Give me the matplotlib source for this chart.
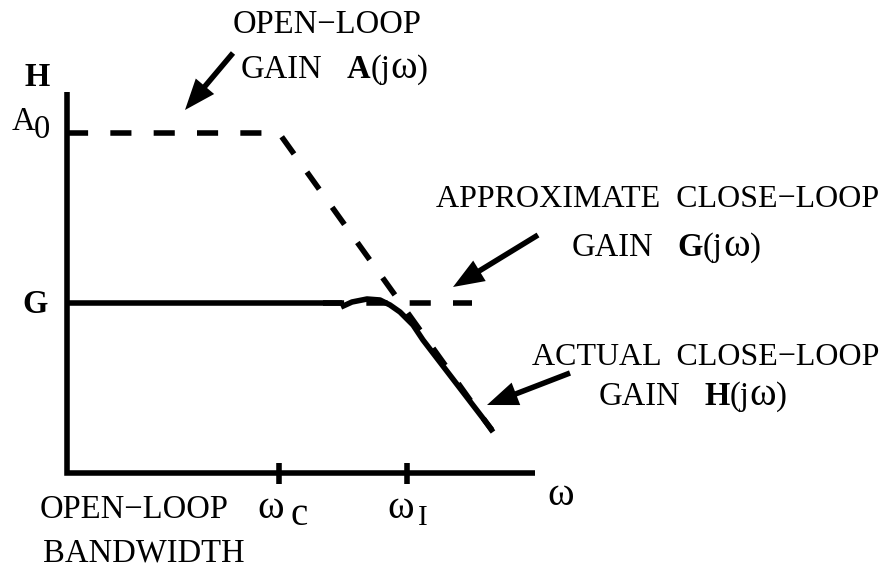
"""Asymptotic gain sketch: open-loop vs. closed-loop gain of a feedback amplifier."""

import matplotlib

matplotlib.use("Agg")
import matplotlib.pyplot as plt
from matplotlib.patches import FancyArrow

# Diagram units: omega along x, gain along y, origin at the axes corner.
AXIS_TOP = 381
AXIS_RIGHT = 468
A0_LEVEL = 340
G_LEVEL = 170
W_C = 212
W_I = 340
TICK_UP = 10
TICK_DOWN = -11

# open-loop gain A(jw): flat at A0, then rolls off past w_c
open_loop_w = [0, W_C, 426]
open_loop_gain = [A0_LEVEL, A0_LEVEL, 41]

# approximate closed-loop gain G(jw) (dashed continuation beyond the knee)
approx_w = [256, 405]
approx_gain = [G_LEVEL, G_LEVEL]

# actual closed-loop gain H(jw)
actual_flat_w = [0, 275]
actual_flat_gain = [G_LEVEL, G_LEVEL]
actual_knee_w = [274, 285, 300, 313, 323, 333, 346, 356, 425]
actual_knee_gain = [166, 171, 174, 173, 168, 161, 148, 133, 43]

# pointer arrows: (tail_w, tail_gain) -> (tip_w, tip_gain)
arrow_tails = [(166, 420), (471, 238), (503, 100)]
arrow_tips = [(118, 363), (386, 186), (420, 68)]

INK = "black"
LW = 4.0
FS = 23.5
FS_OMEGA = 29

plt.rcParams["font.family"] = "Liberation Serif"

fig = plt.figure(figsize=(8.88, 5.68), dpi=100)
ax = fig.add_axes([0, 0, 1, 1])
ax.set_xlim(-67, 821)
ax.set_ylim(-95, 473)
ax.axis("off")
renderer = fig.canvas.get_renderer()

REG = dict(color=INK, fontsize=FS)
BOLD = dict(color=INK, fontsize=FS, fontweight="bold")
OMEGA = dict(color=INK, fontsize=FS_OMEGA)


def text_run(x, y, pieces):
    """Lay out mixed-style text pieces left to right on one baseline."""
    for piece, props in pieces:
        if piece is None:
            x += props
            continue
        t = ax.text(x, y, piece, ha="left", va="baseline", **props)
        x += t.get_window_extent(renderer).width


def gain_label(x, y, letter):
    text_run(x, y, [("GAIN", REG), (None, 24), (letter, BOLD),
                    ("(j", REG), ("ω", OMEGA), (")", REG)])


# axes frame
ax.plot([0, 0, AXIS_RIGHT], [AXIS_TOP, 0, 0], color=INK, lw=LW,
        solid_joinstyle="miter", solid_capstyle="butt")
for w in (W_C, W_I):
    ax.plot([w, w], [TICK_DOWN, TICK_UP], color=INK, lw=LW, solid_capstyle="butt")

# asymptotes
ax.plot(open_loop_w, open_loop_gain, color=INK, lw=LW, dashes=(3.8, 4.0))
ax.plot(approx_w, approx_gain, color=INK, lw=LW, dashes=(3.8, 4.0))

# actual response
ax.plot(actual_flat_w, actual_flat_gain, color=INK, lw=LW, solid_capstyle="butt")
ax.plot(actual_knee_w, actual_knee_gain, color=INK, lw=LW,
        solid_joinstyle="round", solid_capstyle="butt")

for (tw, tg), (hw, hg) in zip(arrow_tails, arrow_tips):
    ax.add_patch(FancyArrow(tw, tg, hw - tw, hg - tg, width=5.5, head_width=24,
                            head_length=31, length_includes_head=True,
                            color=INK, lw=0))

# axis labels
ax.text(-42, 387, "H", ha="left", va="baseline", **BOLD)
ax.text(-55, 343, "A", ha="left", va="baseline", **REG)
ax.text(-33, 335, "0", ha="left", va="baseline", **REG)
ax.text(-45, 160, "G", ha="left", va="baseline", **BOLD)
ax.text(480, -32, "ω", ha="left", va="baseline", **OMEGA)
ax.text(190, -45, "ω", ha="left", va="baseline", **OMEGA)
ax.text(223, -52, "c", ha="left", va="baseline", color=INK, fontsize=28)
ax.text(320, -45, "ω", ha="left", va="baseline", **OMEGA)
ax.text(351, -52, "I", ha="left", va="baseline", color=INK, fontsize=21)
ax.text(-27, -45, "OPEN−LOOP", ha="left", va="baseline", **REG)
ax.text(-24, -89, "BANDWIDTH", ha="left", va="baseline", **REG)

# curve annotations
ax.text(166, 440, "OPEN−LOOP", ha="left", va="baseline", **REG)
gain_label(174, 395, "A")
ax.text(812, 266, "APPROXIMATE  CLOSE−LOOP", ha="right", va="baseline",
        color=INK, fontsize=23)
gain_label(505, 217, "G")
ax.text(812, 108, "ACTUAL  CLOSE−LOOP", ha="right", va="baseline",
        color=INK, fontsize=23)
gain_label(532, 68, "H")

fig.savefig("out.png", dpi=100, facecolor="white")
